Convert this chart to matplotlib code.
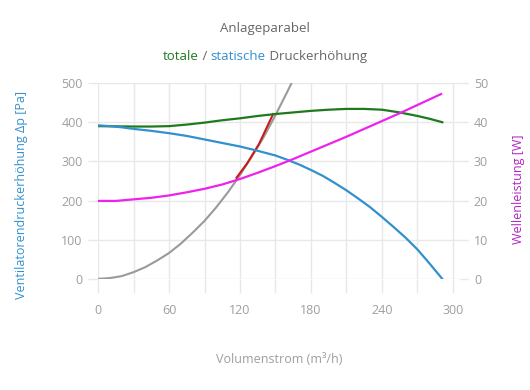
import numpy as np
import matplotlib
matplotlib.use('Agg')
import matplotlib.pyplot as plt
from matplotlib.ticker import MultipleLocator

plt.rcParams['font.family'] = ['Open Sans', 'DejaVu Sans']

# ── data ────────────────────────────────────────────────────
q_static = [0, 10, 20, 30, 45, 60, 75, 90, 105, 120, 135, 150, 160, 170, 180,
            190, 200, 210, 220, 230, 240, 250, 260, 270, 280, 291]
p_static = [392, 390, 387, 383, 378, 372, 365, 356, 347, 338, 327, 315, 304, 292, 278,
            263, 245, 226, 205, 183, 158, 132, 105, 75, 40, 0]

q_total = [0, 30, 45, 60, 75, 90, 105, 120, 135, 150, 165, 180, 195, 210, 225,
           240, 255, 270, 280, 291]
p_total = [390, 389, 389, 390, 394, 399, 405, 410, 416, 421, 425, 429, 432, 434, 434,
           432, 425, 416, 409, 400]

q_power = [0, 15, 30, 45, 60, 75, 90, 105, 120, 135, 150, 165, 180, 195, 210,
           225, 240, 255, 270, 290]
w_power = [19.9, 19.9, 20.3, 20.7, 21.3, 22.1, 23.0, 24.1, 25.5, 27.1, 28.8, 30.6, 32.5, 34.4, 36.3,
           38.3, 40.3, 42.3, 44.4, 47.2]

q_system = [0, 10, 20, 30, 40, 50, 60, 70, 80, 90, 100, 110, 120, 130, 140, 150, 160, 166]
p_system = [0, 2, 7, 17, 30, 47, 66, 90, 118, 148, 183, 222, 265, 312, 362, 418, 478, 515]

q_work = [117, 126, 136, 148]
p_work = [258, 295, 344, 421]

C_BLUE = '#3290cf'
C_GREEN = '#1d7a1d'
C_MAG = '#ee22ee'
C_RED = '#cc1a1a'
C_GRAY = '#9a9a9a'
C_TEXT = '#666666'
C_TICK = '#9e9e9e'
C_GRID = '#e8e8e8'

fig = plt.figure(figsize=(5.3, 3.9), dpi=100)
ax = fig.add_axes([0.185, 0.285, 0.683, 0.502])
ax2 = ax.twinx()

ax.plot(q_system, p_system, color=C_GRAY, lw=1.5, zorder=3)
ax.plot(q_work, p_work, color=C_RED, lw=1.5, zorder=4)
ax.plot(q_total, p_total, color=C_GREEN, lw=1.6, zorder=5)
ax.plot(q_static, p_static, color=C_BLUE, lw=1.6, zorder=5)
ax2.plot(q_power, w_power, color=C_MAG, lw=1.6)

ax.set_xlim(0, 306)
ax.set_ylim(0, 500)
ax2.set_ylim(0, 50)

ax.xaxis.set_major_locator(MultipleLocator(60))
ax.xaxis.set_minor_locator(MultipleLocator(30))
ax.yaxis.set_major_locator(MultipleLocator(100))
ax2.yaxis.set_major_locator(MultipleLocator(10))

ax.grid(True, which='both', color=C_GRID, lw=1.0)
ax.set_axisbelow(True)

for a in (ax, ax2):
    for s in a.spines.values():
        s.set_visible(False)

ax.tick_params(axis='x', which='both', length=10, width=1, color=C_GRID,
               labelcolor=C_TICK, labelsize=9, pad=8)
ax.tick_params(axis='y', length=7, width=1, color=C_GRID,
               labelcolor=C_TICK, labelsize=9, pad=4)
ax2.tick_params(axis='y', length=6, width=1, color=C_GRID,
                labelcolor=C_TICK, labelsize=9, pad=4)

ax.set_xlabel('Volumenstrom (m³/h)', color=C_TICK, fontsize=9, labelpad=26)
ax.set_ylabel('Ventilatorendruckerhöhung Δp [Pa]', color=C_BLUE, fontsize=9)
ax2.set_ylabel('Wellenleistung [W]', color='#b424c4', fontsize=9)
ax.yaxis.set_label_coords(-0.193, 0.43)
ax2.yaxis.set_label_coords(1.143, 0.46)

# titles
fig.text(0.5, 0.928, 'Anlageparabel', ha='center', va='center', color=C_TEXT, fontsize=9.5)

parts = [('totale', C_GREEN), (' / ', C_TEXT), ('statische', C_BLUE), (' Druckerhöhung', C_TEXT)]
fig.canvas.draw()
renderer = fig.canvas.get_renderer()
texts = []
for s, c in parts:
    t = fig.text(0, 0.855, s, ha='left', va='center', color=c, fontsize=9.5)
    texts.append(t)
widths = [t.get_window_extent(renderer).width / fig.bbox.width for t in texts]
x0 = 0.5 - sum(widths) / 2
for t, w in zip(texts, widths):
    t.set_x(x0)
    x0 += w

fig.savefig('out.png', dpi=100)
